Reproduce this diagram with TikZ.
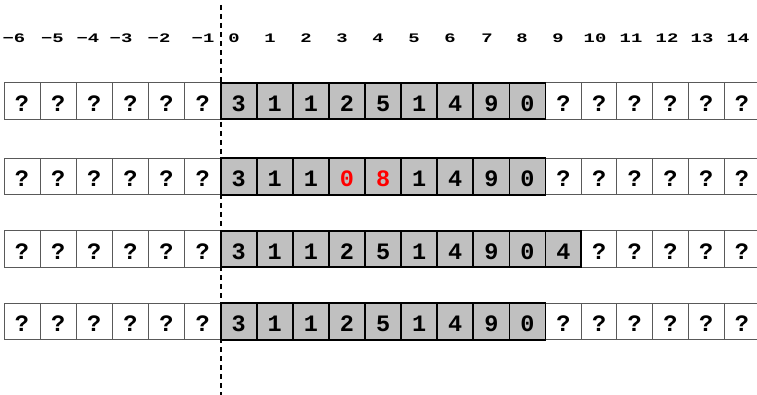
\documentclass[tikz,border=0pt]{standalone}
\usepackage{fontspec}
\usepackage{graphicx}
\setmonofont{Liberation Mono}
\newfontfamily\cellfam{Liberation Mono}
\definecolor{cellgray}{HTML}{C0C0C0}
\definecolor{hot}{HTML}{FF0000}
\newcommand{\cellfnt}{\cellfam\bfseries\fontsize{23.5}{23.5}\selectfont}
\newcommand{\lblfnt}{\cellfam\bfseries\fontsize{13}{13}\selectfont}
\newcommand{\widelbl}[1]{\scalebox{1.45}[1]{#1}}
\tikzset{
  cellbase/.style={inner sep=0pt, text height=28.6pt, text depth=8pt, font=\cellfnt},
  wcell/.style={cellbase, draw=black!65, line width=0.9pt, fill=white},
  gcell/.style={cellbase, draw=black, line width=1.8pt, fill=cellgray},
  lbl/.style={font=\lblfnt, anchor=base, inner sep=0pt},
  divider/.style={line width=2pt, dash pattern=on 5pt off 4pt}
}
\begin{document}
\begin{tikzpicture}[x=1pt,y=-1pt]
\useasboundingbox (0,0) rectangle (757,395);
\coordinate (dtop) at (221,5);
\coordinate (dbot) at (221,395);
\draw[divider] (dtop) -- (dbot);
% index labels
\foreach \n/\t/\x in {m6/−6/14,m5/−5/52.5,m4/−4/88,m3/−3/121,m2/−2/159,m1/−1/203,0/0/234,1/1/270,2/2/306,3/3/342,4/4/378,5/5/414,6/6/450,7/7/487,8/8/522,9/9/558,10/10/595,11/11/631,12/12/667,13/13/702,14/14/738}{
  \node[lbl] (l\n) at (\x,43) {\widelbl{\t}};
}
% rows
\foreach \r/\top/\g in {1/82.7/8, 2/158.3/8, 3/230.7/9, 4/303.3/8}{
  \foreach \i in {-6,...,14}{
    \pgfmathsetmacro\xc{\i<9 ? 4+(\i+6.5)*36.1 : 545.5+(\i-8.5)*35.7}
    \pgfmathsetmacro\w{\i<9 ? 36.1 : 35.7}
    \pgfmathtruncatemacro\isw{(\i<0) || (\i>\g) ? 1 : 0}
    \ifnum\isw=1
      \node[wcell, minimum width=\w pt] (r\r c\i) at (\xc,\top+18.3) {?};
    \fi
  }
}
\foreach \r/\top/\vals in {1/82.7/{0/3,1/1,2/1,3/2,4/5,5/1,6/4,7/9,8/0},
                            2/158.3/{0/3,1/1,2/1,5/1,6/4,7/9,8/0},
                            3/230.7/{0/3,1/1,2/1,3/2,4/5,5/1,6/4,7/9,8/0,9/4},
                            4/303.3/{0/3,1/1,2/1,3/2,4/5,5/1,6/4,7/9,8/0}}{
  \foreach \i/\v in \vals{
    \pgfmathsetmacro\xc{\i<9 ? 4+(\i+6.5)*36.1 : 545.5+(\i-8.5)*35.7}
    \pgfmathsetmacro\w{\i<9 ? 36.1 : 35.7}
    \node[gcell, minimum width=\w pt] (r\r c\i) at (\xc,\top+18.3) {\v};
  }
}
% changed cells in row 2
\node[gcell, minimum width=36.1pt, text=hot] (r2c3) at ({4+9.5*36.1},176.6) {0};
\node[gcell, minimum width=36.1pt, text=hot] (r2c4) at ({4+10.5*36.1},176.6) {8};
\end{tikzpicture}
\end{document}
